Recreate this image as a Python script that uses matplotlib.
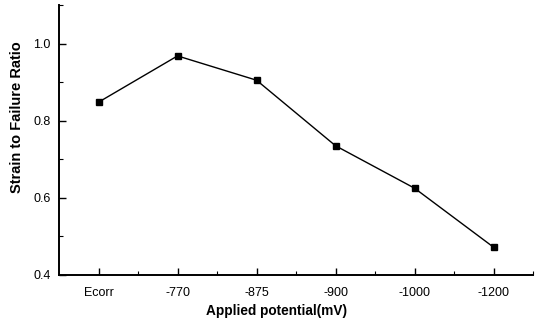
import matplotlib.pyplot as plt
from matplotlib.ticker import MultipleLocator

potentials = ['Ecorr', '-770', '-875', '-900', '-1000', '-1200']
ratio = [0.848, 0.968, 0.905, 0.735, 0.625, 0.472]

plt.rcParams['font.family'] = ['Liberation Sans', 'DejaVu Sans']

fig = plt.figure(figsize=(5.43, 3.22), dpi=100)
ax = fig.add_axes([0.1087, 0.146, 0.873, 0.8385])

xs = list(range(1, len(potentials) + 1))
ax.plot(xs, ratio, color='black', linewidth=1.0, marker='s', markersize=5)

ax.set_xlim(0.5, 6.5)
ax.set_ylim(0.4, 1.1)
ax.set_xticks(xs)
ax.set_xticklabels(potentials)
ax.set_xticks([x + 0.5 for x in xs], minor=True)
ax.set_yticks([0.4, 0.6, 0.8, 1.0])
ax.yaxis.set_minor_locator(MultipleLocator(0.1))

ax.spines['top'].set_visible(False)
ax.spines['right'].set_visible(False)
ax.spines['left'].set_linewidth(1.4)
ax.spines['bottom'].set_linewidth(1.4)
ax.tick_params(direction='in', which='major', length=5, width=1.0, labelsize=9)
ax.tick_params(axis='x', which='major', pad=9)
ax.tick_params(axis='y', which='major', pad=6)
ax.tick_params(direction='in', which='minor', length=3, width=0.8)

ax.set_xlabel('Applied potential(mV)', fontsize=9.8, fontweight='bold')
ax.set_ylabel('Strain to Failure Ratio', fontsize=10.5, fontweight='bold')
ax.xaxis.set_label_coords(0.458, -0.108)
ax.yaxis.set_label_coords(-0.074, 0.585)

fig.savefig('out.png', dpi=100)
